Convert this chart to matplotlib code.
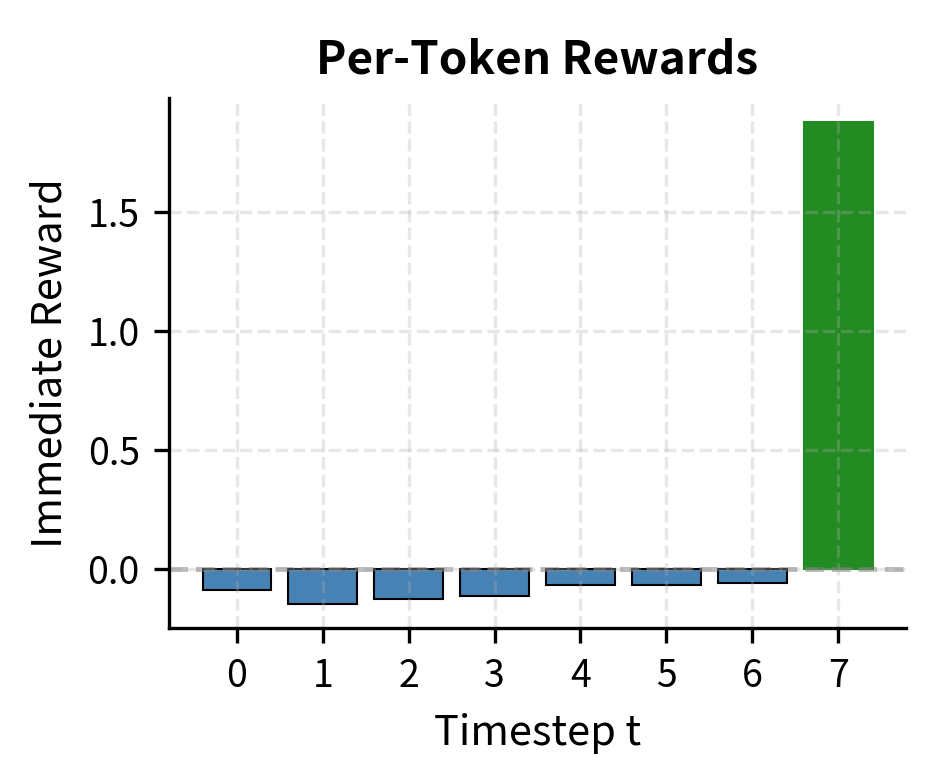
import matplotlib
matplotlib.use("Agg")
import matplotlib.pyplot as plt
import numpy as np

plt.rcParams['font.family'] = ['Noto Sans CJK JP', 'DejaVu Sans']

timesteps = [0, 1, 2, 3, 4, 5, 6, 7]
rewards = [-0.087, -0.145, -0.126, -0.111, -0.067, -0.067, -0.059, 1.877]
bar_colors = ['steelblue'] * 7 + ['forestgreen']
edge_colors = ['black'] * 7 + ['forestgreen']

fig = plt.figure(figsize=(934/300, 784/300), dpi=300)
ax = fig.add_axes([169/934, 1-628/784, (906-169)/934, (628-98)/784])

ax.bar(timesteps, rewards, color=bar_colors, edgecolor=edge_colors, linewidth=0.5)
ax.axhline(0, color='gray', linestyle='--', linewidth=1.2, alpha=0.5)
ax.grid(True, linestyle='--', alpha=0.3)
ax.set_xticks(timesteps)
ax.tick_params(labelsize=9)
ax.set_xlabel('Timestep t', fontsize=10)
ax.set_ylabel('Immediate Reward', fontsize=10)
ax.set_title('Per-Token Rewards', fontsize=11, fontweight='bold')
ax.spines['top'].set_visible(False)
ax.spines['right'].set_visible(False)

fig.savefig('out.png', dpi=300)
